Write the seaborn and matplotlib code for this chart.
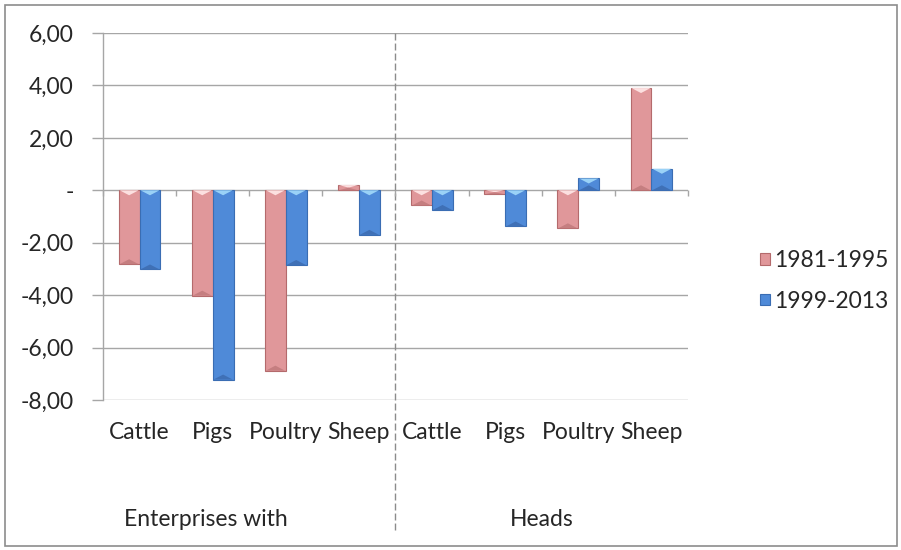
import numpy as np
import pandas as pd
import matplotlib
matplotlib.use("Agg")
import matplotlib.pyplot as plt
import matplotlib.markers as mmarkers
import matplotlib.transforms as mtransforms
from matplotlib.patches import Polygon, Rectangle, Patch
from matplotlib.ticker import FuncFormatter
import seaborn as sns

# ---- data -------------------------------------------------------------
groups = ["Enterprises with", "Heads"]
animals = ["Cattle", "Pigs", "Poultry", "Sheep"]
periods = ["1981-1995", "1999-2013"]

enterprises_1981_1995 = [-2.82, -4.02, -6.88, 0.20]
enterprises_1999_2013 = [-3.02, -7.22, -2.85, -1.70]
heads_1981_1995 = [-0.58, -0.15, -1.45, 3.90]
heads_1999_2013 = [-0.75, -1.38, 0.45, 0.82]

y_ticks = [-8, -6, -4, -2, 0, 2, 4, 6]

# ---- long-format table ---------------------------------------------------
series = {
    (groups[0], periods[0]): enterprises_1981_1995,
    (groups[0], periods[1]): enterprises_1999_2013,
    (groups[1], periods[0]): heads_1981_1995,
    (groups[1], periods[1]): heads_1999_2013,
}
rows = []
for (grp, per), vals in series.items():
    for animal, v in zip(animals, vals):
        rows.append({"key": f"{grp}|{animal}", "group": grp,
                     "animal": animal, "period": per, "value": v})
df = pd.DataFrame(rows)
order = [f"{g}|{a}" for g in groups for a in animals]

# ---- styling ---------------------------------------------------------
sns.set_style("white")
plt.rcParams["font.family"] = ["Lato", "DejaVu Sans"]
FS = 16.5
text_color = "#262626"
grid_color = "#A6A6A6"
pink, blue = "#E0979A", "#4F8AD8"
pink_edge, blue_edge = "#B46A6C", "#3A6DB3"
pink_light, blue_light = "#FCE0E0", "#9AD2F7"
pink_dark, blue_dark = "#C57E80", "#3F70B6"

fig = plt.figure(figsize=(9.01, 5.50), dpi=100)
ax = fig.add_axes([103 / 901, 1 - 400 / 550, 585 / 901, 367 / 550])

sns.barplot(data=df, x="key", y="value", hue="period", order=order,
            hue_order=periods, palette=[pink, blue], saturation=1,
            width=0.57, gap=0, legend=False, ax=ax, zorder=3)

ax.set_ylim(min(y_ticks), max(y_ticks))
ax.set_xlim(-0.5, len(order) - 0.5)

# bevel shading on each bar (lit from above), computed from the drawn patches
edges = [pink_edge, blue_edge]
lights = [pink_light, blue_light]
darks = [pink_dark, blue_dark]
px_per_unit = 367 / (max(y_ticks) - min(y_ticks))
for i, cont in enumerate(ax.containers):
    for bar in cont:
        bar.set_edgecolor(edges[i])
        bar.set_linewidth(0.8)
        x0, w = bar.get_x(), bar.get_width()
        y_a = bar.get_y()
        y_b = y_a + bar.get_height()
        top, bottom = max(y_a, y_b), min(y_a, y_b)
        depth = min(5 / px_per_unit, (top - bottom) / 2)
        inset = 0.04 * w
        ax.add_patch(Polygon([(x0 + inset, top), (x0 + w - inset, top),
                              (x0 + w / 2, top - depth)], closed=True,
                             facecolor=lights[i], edgecolor="none", zorder=4))
        ax.add_patch(Polygon([(x0 + inset, bottom), (x0 + w - inset, bottom),
                              (x0 + w / 2, bottom + depth)], closed=True,
                             facecolor=darks[i], edgecolor="none", zorder=4))

# axes, grid and ticks
for side in ["top", "right", "bottom"]:
    ax.spines[side].set_visible(False)
ax.spines["left"].set_color(grid_color)
ax.spines["left"].set_linewidth(1.0)
ax.yaxis.grid(True, color=grid_color, linewidth=1.0, zorder=0)
ax.xaxis.grid(False)
ax.set_axisbelow(True)

ax.set_yticks(y_ticks)
ax.yaxis.set_major_formatter(FuncFormatter(
    lambda v, _: "-" if v == 0 else f"{v:.2f}".replace(".", ",")))
ax.tick_params(axis="y", direction="out", length=8, width=1.0,
               color=grid_color, pad=13, labelsize=FS, labelcolor=text_color,
               left=True)

ax.set_xticks(range(len(order)))
ax.set_xticklabels(animals * len(groups))
ax.tick_params(axis="x", length=0, pad=16, labelsize=FS,
               labelcolor=text_color, bottom=True)
ax.set_xlabel("")
ax.set_ylabel("")

# small category-boundary ticks on the zero line
bounds = np.arange(-0.5, len(order), 1.0)
ax.plot(bounds, np.zeros_like(bounds), linestyle="none",
        marker=mmarkers.TICKDOWN, markersize=4, markeredgewidth=1.0,
        color=grid_color, clip_on=False, zorder=2)

# dashed separator between the two groups
ax.axvline(len(animals) - 0.5, ymin=-0.354, ymax=1.0, clip_on=False,
           color="#8C8C8C", linewidth=1.0, linestyle=(0, (5, 2.2)), zorder=1)

# group labels below the category labels
trans = mtransforms.blended_transform_factory(ax.transData, ax.transAxes)
ax.text(-0.21, -0.325, groups[0], transform=trans, ha="left", va="center",
        fontsize=FS, color=text_color)
ax.text(len(animals) + 1.5, -0.325, groups[1], transform=trans, ha="center",
        va="center", fontsize=FS, color=text_color)

# legend
handles = [Patch(facecolor=pink, edgecolor=pink_edge, linewidth=0.8),
           Patch(facecolor=blue, edgecolor=blue_edge, linewidth=0.8)]
fig.legend(handles, periods, loc="center left",
           bbox_to_anchor=(760 / 901, 1 - 281 / 550), frameon=False,
           borderpad=0, borderaxespad=0, fontsize=FS, handlelength=0.42,
           handleheight=0.42, handletextpad=0.2, labelspacing=0.85,
           labelcolor=text_color)

# outer frame
fig.add_artist(Rectangle((5 / 901, 1 - 546 / 550), 892 / 901, 541 / 550,
                         transform=fig.transFigure, fill=False,
                         edgecolor="#8C8C8C", linewidth=1.2))

fig.savefig("out.png", dpi=100)
